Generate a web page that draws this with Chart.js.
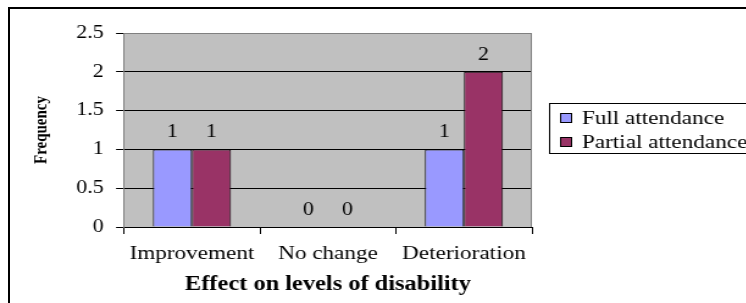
<!DOCTYPE html>
<html lang="en">
<head>
<meta charset="UTF-8">
<title>Effect on levels of disability</title>
<script src="https://cdn.jsdelivr.net/npm/chart.js"></script>
<style>
  html, body { margin: 0; padding: 0; background: #fff; width: 746px; height: 303px; overflow: hidden; }
  .frame { position: absolute; left: 8px; top: 7px; width: 800px; height: 400px; border-left: 2px solid #000; border-top: 2px solid #000; }
  /* the original picture is stretched sideways, so the canvas is too */
  .wrap { position: absolute; left: 0; top: 0; width: 612px; height: 303px; transform: scaleX(1.22); transform-origin: 0 0; }
</style>
</head>
<body>
<div class="frame"></div>
<div class="wrap"><canvas id="chart" width="612" height="303"></canvas></div>

<script>
// --- data ---
const categories = ['Improvement', 'No change', 'Deterioration'];
const seriesNames = ['Full attendance', 'Partial attendance'];
const fullAttendance = [1, 0, 1];
const partialAttendance = [1, 0, 2];
const yTicks = [0, 0.5, 1, 1.5, 2, 2.5];

const SERIF = '"Liberation Serif", "Times New Roman", serif';

// grey plot background + right border
const plotBg = {
    id: 'plotBg',
    beforeDraw(chart) {
        const { ctx, chartArea: a } = chart;
        ctx.save();
        ctx.fillStyle = '#c0c0c0';
        ctx.fillRect(a.left, a.top, a.right - a.left, a.bottom - a.top);
        ctx.restore();
    },
    afterDatasetsDraw(chart) {
        const { ctx, chartArea: a } = chart;
        ctx.save();
        ctx.strokeStyle = '#808080';
        ctx.lineWidth = 1;
        ctx.beginPath();
        ctx.moveTo(Math.round(a.right) - 0.5, a.top);
        ctx.lineTo(Math.round(a.right) - 0.5, a.bottom);
        ctx.stroke();
        ctx.restore();
    }
};

// value labels above the bars
const valueLabels = {
    id: 'valueLabels',
    afterDatasetsDraw(chart) {
        const ctx = chart.ctx;
        ctx.save();
        ctx.font = '18px ' + SERIF;
        ctx.fillStyle = '#000';
        ctx.textAlign = 'center';
        ctx.textBaseline = 'middle';
        chart.data.datasets.forEach((ds, i) => {
            chart.getDatasetMeta(i).data.forEach((bar, j) => {
                ctx.fillText(String(ds.data[j]), bar.x, bar.y - 17);
            });
        });
        ctx.restore();
    }
};

// boxed legend on the right, cut by the edge like the original
const boxLegend = {
    id: 'boxLegend',
    afterDraw(chart) {
        const ctx = chart.ctx;
        const x = 450.5, y = 103.5;
        ctx.save();
        ctx.strokeStyle = '#000';
        ctx.lineWidth = 1;
        ctx.strokeRect(x, y, 200, 50);
        ctx.font = '19px ' + SERIF;
        ctx.textBaseline = 'middle';
        chart.data.datasets.forEach((ds, i) => {
            const cy = 118 + i * 24;
            ctx.fillStyle = ds.backgroundColor;
            ctx.fillRect(459, cy - 5, 10, 10);
            ctx.strokeRect(459.5, cy - 4.5, 9, 9);
            ctx.fillStyle = '#000';
            ctx.fillText(ds.label, 477, cy + 1);
        });
        ctx.restore();
    }
};

new Chart(document.getElementById('chart'), {
    type: 'bar',
    data: {
        labels: categories,
        datasets: [
            { label: seriesNames[0], data: fullAttendance, backgroundColor: '#9999ff', borderColor: '#000', borderWidth: 1 },
            { label: seriesNames[1], data: partialAttendance, backgroundColor: '#993366', borderColor: '#000', borderWidth: 1 }
        ]
    },
    options: {
        responsive: false,
        devicePixelRatio: 1,
        animation: false,
        categoryPercentage: 0.574,
        barPercentage: 1,
        layout: { padding: { top: 33, right: 176, bottom: 0, left: 0 } },
        plugins: { legend: { display: false }, tooltip: { enabled: false } },
        scales: {
            x: {
                afterFit(scale) { scale.height = 76; },
                grid: { drawOnChartArea: false, tickLength: 7, tickColor: '#000' },
                border: { color: '#000' },
                ticks: { color: '#000', padding: 8.5, font: { family: SERIF, size: 19 } },
                title: {
                    display: true,
                    text: 'Effect on levels of disability',
                    color: '#000',
                    font: { family: SERIF, size: 20, weight: 'bold' },
                    padding: { top: 0, bottom: 6 }
                }
            },
            y: {
                min: yTicks[0],
                max: yTicks[yTicks.length - 1],
                afterFit(scale) { scale.width = 101.6; },
                afterBuildTicks(scale) { scale.ticks = yTicks.map(v => ({ value: v })); },
                grid: {
                    color: c => (c.tick && c.tick.value === 2.5 ? '#808080' : '#000'),
                    tickColor: '#000',
                    tickLength: 6.5
                },
                border: { color: '#808080' },
                ticks: {
                    color: '#000',
                    padding: 10,
                    font: { family: SERIF, size: 18 },
                    callback: v => String(v)
                },
                title: {
                    display: true,
                    text: 'Frequency',
                    color: '#000',
                    font: { family: SERIF, size: 15, weight: 'bold' },
                    padding: { top: 25, bottom: 0 }
                }
            }
        }
    },
    plugins: [plotBg, valueLabels, boxLegend]
});
</script>
</body>
</html>
